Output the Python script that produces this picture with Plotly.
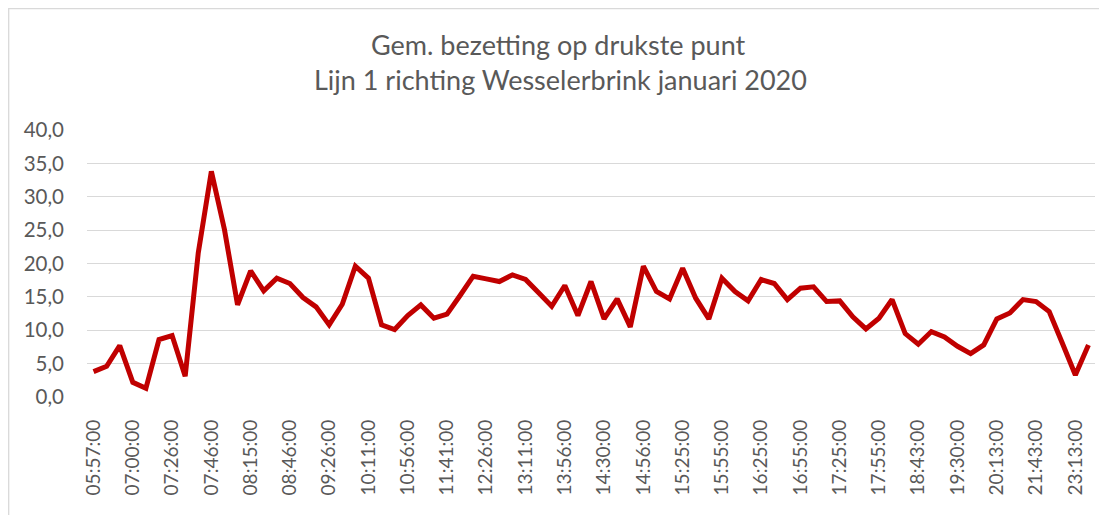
import plotly.graph_objects as go

# Departure times (every third one is labelled on the axis)
times = [
    "05:57:00", "06:20:00", "06:41:00", "07:00:00", "07:09:00", "07:17:00",
    "07:26:00", "07:33:00", "07:40:00", "07:46:00", "07:53:00", "08:04:00",
    "08:15:00", "08:25:00", "08:36:00", "08:46:00", "08:56:00", "09:11:00",
    "09:26:00", "09:41:00", "09:56:00", "10:11:00", "10:26:00", "10:41:00",
    "10:56:00", "11:11:00", "11:26:00", "11:41:00", "11:56:00", "12:11:00",
    "12:26:00", "12:41:00", "12:56:00", "13:11:00", "13:26:00", "13:41:00",
    "13:56:00", "14:11:00", "14:21:00", "14:30:00", "14:41:00", "14:48:00",
    "14:56:00", "15:06:00", "15:16:00", "15:25:00", "15:35:00", "15:45:00",
    "15:55:00", "16:05:00", "16:15:00", "16:25:00", "16:35:00", "16:45:00",
    "16:55:00", "17:05:00", "17:15:00", "17:25:00", "17:35:00", "17:45:00",
    "17:55:00", "18:11:00", "18:27:00", "18:43:00", "18:58:00", "19:14:00",
    "19:30:00", "19:44:00", "19:58:00", "20:13:00", "20:43:00", "21:13:00",
    "21:43:00", "22:13:00", "22:43:00", "23:13:00", "23:43:00",
]

# Average occupancy at busiest point
bezetting = [
    3.8, 4.6, 7.7, 2.2, 1.3, 8.6, 9.2, 3.1, 21.6, 33.8, 25.1, 13.8,
    18.9, 15.9, 17.8, 17.0, 14.9, 13.5, 10.8, 13.9, 19.6, 17.8,
    10.8, 10.1, 12.2, 13.8, 11.8, 12.4, 15.2, 18.1, 17.7, 17.3,
    18.3, 17.6, 15.6, 13.6, 16.7, 12.2, 17.3, 11.7, 14.7, 10.5,
    19.6, 15.8, 14.7, 19.3, 14.8, 11.7, 17.8, 15.8, 14.4, 17.6,
    17.0, 14.6, 16.3, 16.5, 14.3, 14.4, 12.0, 10.2, 11.8, 14.6,
    9.5, 7.9, 9.8, 9.0, 7.6, 6.5, 7.8, 11.7, 12.6, 14.6,
    14.3, 12.8, 8.1, 3.3, 7.8,
]

tick_times = times[::3]

title_line1 = "Gem. bezetting op drukste punt"
title_line2 = "Lijn 1 richting Wesselerbrink januari 2020"

FONT = "Lato"
TXT = "#595959"
GRID = "#d9d9d9"

# the page body has an 8px margin, so work in page pixels and subtract it
OFF = 8
W, H = 1107 - OFF, 515 - OFF
PLOT_L, PLOT_R, PLOT_T, PLOT_B = 87, 1095, 130, 397  # page pixels
L = PLOT_L - OFF
T = PLOT_T - OFF
R = W - (PLOT_R - OFF)
B = H - (PLOT_B - OFF)
PW, PH = W - L - R, H - T - B


def px_x(x):
    return (x - OFF - L) / PW


def px_y(y):
    return (H - B - (y - OFF)) / PH


fig = go.Figure()
fig.add_trace(go.Scatter(
    x=times, y=bezetting, mode="lines",
    line=dict(color="#c00000", width=5),
    hoverinfo="x+y",
))

fig.update_layout(
    width=W, height=H,
    margin=dict(l=L, r=R, t=T, b=B, autoexpand=False),
    paper_bgcolor="white", plot_bgcolor="white",
    separators=",.",
    showlegend=False,
    font=dict(family=FONT, color=TXT, size=20),
)
fig.update_xaxes(
    type="category", automargin=False,
    range=[-0.5, len(times) - 0.5],
    tickmode="array", tickvals=tick_times, ticktext=tick_times,
    tickangle=-90, showgrid=False, showline=False, ticks="",
    tickfont=dict(family=FONT, color=TXT, size=19),
    ticklabelstandoff=18,
)
fig.update_yaxes(
    automargin=False,
    range=[0, 40], dtick=5, tick0=0, tickformat=".1f",
    showgrid=True, gridcolor=GRID, gridwidth=1.3,
    zeroline=False, showline=False, ticks="",
    tickfont=dict(family=FONT, color=TXT, size=20.5),
    ticklabelstandoff=22,
)

fig.add_annotation(text=title_line1, xref="paper", yref="paper",
                   x=px_x(558), y=px_y(44),
                   xanchor="center", yanchor="middle", showarrow=False,
                   font=dict(family=FONT, color=TXT, size=27))
fig.add_annotation(text=title_line2, xref="paper", yref="paper",
                   x=px_x(560), y=px_y(79),
                   xanchor="center", yanchor="middle", showarrow=False,
                   font=dict(family=FONT, color=TXT, size=27))

# chart-area border (only top and left edges fall inside the picture)
fig.add_shape(type="rect", xref="paper", yref="paper",
              x0=px_x(OFF + 0.7), x1=px_x(1140),
              y0=px_y(560), y1=px_y(OFF + 0.7),
              line=dict(color=GRID, width=1.3), layer="below")

fig.write_html("out.html")
